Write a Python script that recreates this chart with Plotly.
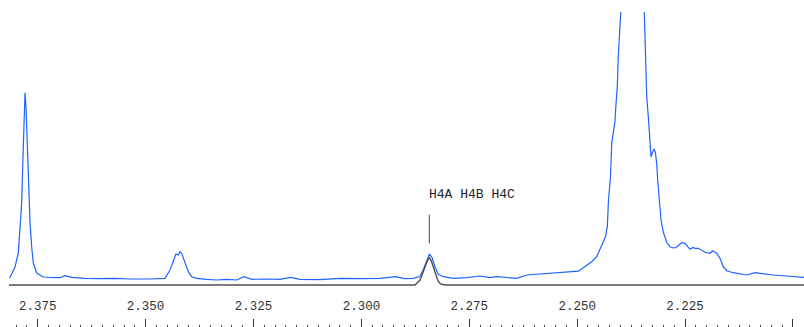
import plotly.graph_objects as go

# Observed (blue) spectrum: chemical shift (ppm) and intensity (arbitrary units)
ppm_obs = [2.38153, 2.38026, 2.37950, 2.37910, 2.37871, 2.37848, 2.37817, 2.37794, 2.37771, 2.37741,
           2.37718, 2.37678, 2.37639, 2.37602, 2.37523, 2.37370, 2.37215, 2.36983, 2.36867, 2.36705,
           2.36404, 2.36056, 2.35709, 2.35361, 2.34898, 2.34666, 2.34550, 2.34435, 2.34358, 2.34296,
           2.34242, 2.34203, 2.34164, 2.34087, 2.34011, 2.33932, 2.33816, 2.33584, 2.33353, 2.33121,
           2.32889, 2.32720, 2.32542, 2.32233, 2.31886, 2.31638, 2.31422, 2.30959, 2.30496, 2.30032,
           2.29569, 2.29205, 2.28990, 2.28804, 2.28642, 2.28566, 2.28487, 2.28427, 2.28371, 2.28295,
           2.28218, 2.28102, 2.27871, 2.27560, 2.27252, 2.27020, 2.26865, 2.26633, 2.26402, 2.26170,
           2.25862, 2.25554, 2.25322, 2.25167, 2.24974, 2.24819, 2.24664, 2.24548, 2.24472, 2.24395,
           2.24344, 2.24302, 2.24275, 2.24228, 2.24200, 2.24163, 2.24124, 2.24105, 2.24071, 2.24048,
           2.24024, 2.24008, 2.23962, 2.23869, 2.23730, 2.23591, 2.23498, 2.23445, 2.23429, 2.23413,
           2.23389, 2.23352, 2.23329, 2.23290, 2.23250, 2.23220, 2.23190, 2.23158, 2.23135, 2.23098,
           2.23058, 2.23005, 2.22965, 2.22919, 2.22850, 2.22773, 2.22711, 2.22657, 2.22579, 2.22502,
           2.22433, 2.22386, 2.22317, 2.22270, 2.22194, 2.22115, 2.22039, 2.21923, 2.21860, 2.21768,
           2.21691, 2.21615, 2.21536, 2.21383, 2.21228, 2.21073, 2.20880, 2.20688, 2.20456, 2.20146,
           2.19745]
int_obs = [6.7, 18, 32, 58, 82, 118, 158, 192.3, 178, 138,
           98, 62, 38, 22, 12, 8, 7.5, 7.3, 9.3, 7.7,
           6.7, 6.3, 6.7, 6, 6, 6, 6.7, 15, 23.3, 31,
           30, 33.3, 31.7, 21.7, 13.3, 8.3, 6.7, 5.7, 5, 5.7,
           5, 8.3, 5.7, 6, 5.7, 7.7, 5.7, 5.3, 6.7, 6.3,
           6.7, 8.3, 6.3, 6.7, 8.5, 15.5, 25, 30.7, 28.3, 18.3,
           10.7, 8.3, 6.7, 7.3, 9, 7.3, 8.3, 7.3, 6.7, 10,
           11, 11.7, 12.3, 13.3, 13.8, 18.5, 23.3, 28.3, 35, 43.3,
           48.3, 58.3, 85, 108.3, 141.7, 153.5, 163.5, 178.3, 198.3, 228.3,
           251.7, 272.3, 345, 435, 475, 425, 345, 272.3, 251.7, 215,
           188.3, 168.3, 148.3, 128.3, 133.3, 136, 133, 121.7, 105, 85,
           65, 53, 48.3, 42, 38.3, 37, 37.5, 39.5, 42.3, 41.7,
           38, 35.7, 37.5, 36.7, 36.7, 35, 32.7, 31.7, 34.3, 31.7,
           26.7, 18.3, 14.3, 12.3, 11, 10, 12.3, 11, 10, 9,
           7.7]

# Simulated (black) spectrum
ppm_sim = [2.38165, 2.28758, 2.28642, 2.28584, 2.28526, 2.28473, 2.28427, 2.28380, 2.28334,
           2.28283, 2.28241, 2.28190, 2.28139, 2.28063, 2.19745]
int_sim = [0, 0, 5, 12, 18.3, 24, 27.3, 24, 18.3, 11, 5.7, 2, 0.7, 0, 0]

# Peak assignment label
label_ppm = 2.28427
label_int = 30.7
label_text = "H4A H4B H4C"

# Axis ticks
x_range = [2.38165, 2.19745]
major_step = 0.025
minor_step = 0.0025

fig = go.Figure()
fig.add_trace(go.Scatter(x=ppm_obs, y=int_obs, mode="lines",
                         line=dict(color="#1e63ff", width=1.2), hoverinfo="skip"))
fig.add_trace(go.Scatter(x=ppm_sim, y=int_sim, mode="lines",
                         line=dict(color="#505050", width=1.4), hoverinfo="skip"))

fig.add_annotation(x=label_ppm, y=label_int, text="", showarrow=True, arrowhead=0,
                   arrowwidth=1, arrowcolor="#444444", ax=0, ay=-30, yshift=11)
fig.add_annotation(x=label_ppm, y=label_int, text=label_text, showarrow=False,
                   xanchor="left", yanchor="middle", yshift=60, xshift=-2,
                   font=dict(family="Liberation Mono", size=13, color="#222222"))

fig.update_layout(
    width=804, height=327,
    margin=dict(l=9, r=0, t=12, b=0),
    paper_bgcolor="white", plot_bgcolor="white",
    showlegend=False,
    xaxis=dict(range=x_range, showgrid=False, zeroline=False, showline=False,
               ticks="inside", ticklen=8, tickwidth=1, tickcolor="#333333",
               tick0=2.375, dtick=major_step, tickformat=".3f",
               ticklabelposition="inside", ticklabelstandoff=6,
               tickfont=dict(family="Liberation Mono", size=12.5, color="#333333"),
               minor=dict(ticks="inside", ticklen=2, tickcolor="#444444", dtick=minor_step,
                          tick0=2.375, showgrid=False)),
    yaxis=dict(range=[-42, 273], visible=False, showgrid=False, zeroline=False),
)

fig.write_html("out.html", config={"displayModeBar": False},
               post_script="document.body.style.margin='0px';document.body.style.overflow='hidden';")
